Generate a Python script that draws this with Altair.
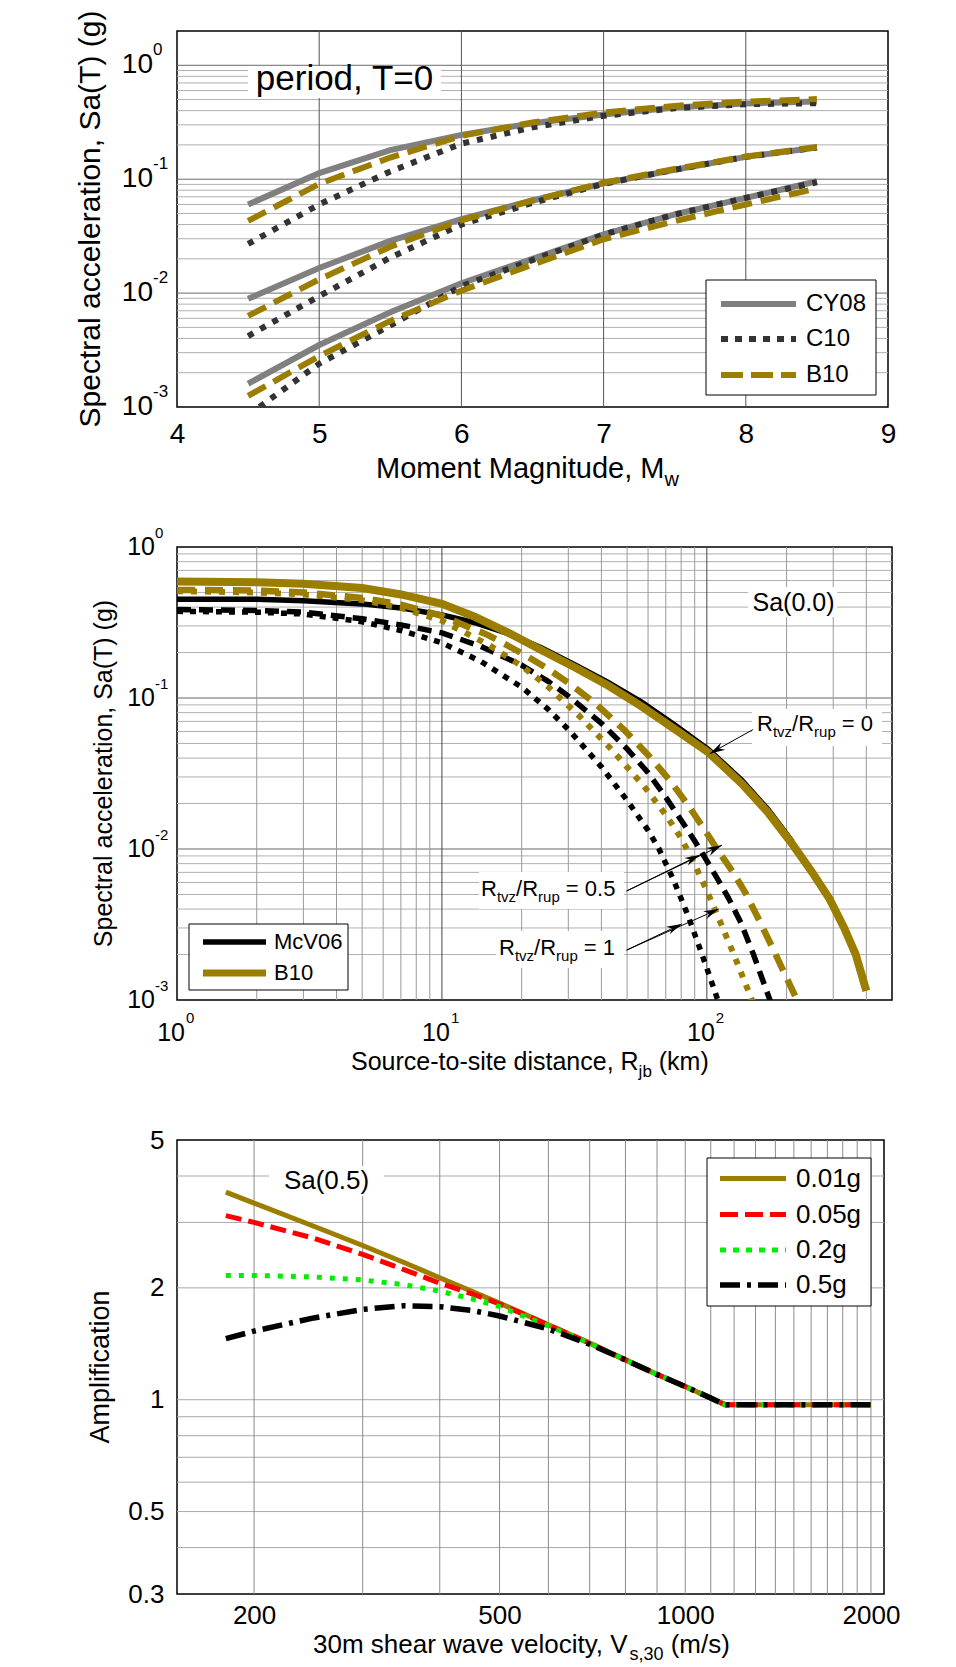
import math
import altair as alt
import pandas as pd

FONT = "Liberation Sans"
GOLD = "#9b7d00"

# ---------------- Panel 1 data (Sa vs Mw, three distances) ----------------
mw = [4.5, 5.0, 5.5, 6.0, 6.5, 7.0, 7.5, 8.0, 8.5]
cy08_a = [0.060, 0.113, 0.180, 0.245, 0.310, 0.370, 0.425, 0.462, 0.480]
c10_a = [0.027, 0.060, 0.117, 0.205, 0.285, 0.360, 0.420, 0.455, 0.465]
b10_a = [0.043, 0.091, 0.155, 0.240, 0.315, 0.385, 0.440, 0.480, 0.505]
cy08_b = [0.0089, 0.0166, 0.0287, 0.0445, 0.065, 0.092, 0.121, 0.157, 0.190]
c10_b = [0.0042, 0.0094, 0.0205, 0.0400, 0.062, 0.091, 0.121, 0.157, 0.190]
b10_b = [0.0063, 0.0132, 0.0255, 0.0435, 0.065, 0.093, 0.123, 0.158, 0.192]
cy08_c = [0.0016, 0.0035, 0.0068, 0.0122, 0.0200, 0.0327, 0.049, 0.0686, 0.096]
c10_c = [0.00085, 0.0024, 0.0052, 0.0115, 0.0195, 0.0327, 0.049, 0.0686, 0.094]
b10_c = [0.00125, 0.0028, 0.0057, 0.0105, 0.0178, 0.0297, 0.0428, 0.060, 0.083]

# ---------------- Panel 2 data (Sa vs Rjb) ----------------
r_mcv_0 = [1, 2, 3, 5, 7, 10, 13.3, 17.7, 23.7, 31.7, 42.4, 56.7, 75.9, 101.5, 135.7, 170, 210]
sa_mcv_0 = [0.45, 0.45, 0.44, 0.42, 0.395, 0.355, 0.315, 0.268, 0.215, 0.166, 0.127, 0.094, 0.066, 0.0455, 0.0285, 0.0183, 0.0112]
r_mcv_05 = [1, 2, 3, 5, 7, 10, 14, 20, 25, 30, 40, 50, 60, 70, 80, 90, 95, 110, 121, 135, 150, 173, 180]
sa_mcv_05 = [0.385, 0.38, 0.37, 0.335, 0.305, 0.27, 0.22, 0.165, 0.13, 0.103, 0.068, 0.046, 0.032, 0.022, 0.0155, 0.0113, 0.0097, 0.0063, 0.0047, 0.0032, 0.002, 0.001, 0.0008]
r_mcv_1 = [1, 2, 3, 5, 7, 10, 14, 20, 25, 30, 40, 50, 60, 66, 75, 85, 95, 103, 110, 115]
sa_mcv_1 = [0.375, 0.37, 0.36, 0.32, 0.28, 0.232, 0.175, 0.118, 0.085, 0.062, 0.035, 0.021, 0.0133, 0.01, 0.0062, 0.0036, 0.0021, 0.0014, 0.001, 0.0008]
r_b10_0 = [1, 2, 3, 5, 7, 10, 13.3, 17.7, 23.7, 31.7, 42.4, 56.7, 75.9, 101.5, 135.7, 170, 210, 250, 290, 330, 365, 400]
sa_b10_0 = [0.59, 0.585, 0.57, 0.535, 0.485, 0.42, 0.345, 0.272, 0.208, 0.16, 0.121, 0.088, 0.062, 0.0435, 0.027, 0.0175, 0.0108, 0.007, 0.0047, 0.003, 0.002, 0.00115]
r_b10_05 = [1, 2, 3, 5, 7, 10, 15, 20, 25, 30, 38, 49, 60, 73, 85, 97, 110, 125, 140, 160, 182, 200, 219, 228]
sa_b10_05 = [0.52, 0.515, 0.50, 0.46, 0.415, 0.35, 0.26, 0.198, 0.157, 0.126, 0.092, 0.061, 0.042, 0.028, 0.0195, 0.0138, 0.0098, 0.0071, 0.0051, 0.0032, 0.002, 0.0014, 0.001, 0.0008]
r_b10_1 = [1, 2, 3, 5, 7, 10, 15, 20, 25, 33, 44, 58, 70, 80, 90, 100, 114, 128, 148, 155]
sa_b10_1 = [0.51, 0.50, 0.485, 0.445, 0.395, 0.325, 0.225, 0.163, 0.12, 0.076, 0.045, 0.026, 0.0168, 0.0118, 0.0079, 0.0053, 0.0031, 0.0019, 0.001, 0.0008]

# annotation arrows (data coordinates)
arrow_r_start = [149.4, 49.8, 49.8, 49.8, 49.8]
arrow_sa_start = [0.0618, 0.00527, 0.00527, 0.00214, 0.00214]
arrow_r_tip = [102.6, 94.1, 114.0, 80.4, 111.0]
arrow_sa_tip = [0.0428, 0.00913, 0.0106, 0.00319, 0.00401]

# ---------------- Panel 3 data (amplification vs Vs30) ----------------
vs30 = [180, 200, 250, 300, 350, 400, 450, 500, 600, 700, 800, 900, 1000, 1100, 1160, 1500, 2000]
amp_001 = [3.62, 3.38, 2.93, 2.60, 2.34, 2.13, 1.96, 1.82, 1.59, 1.42, 1.28, 1.17, 1.085, 1.01, 0.97, 0.97, 0.97]
amp_005 = [3.13, 3.00, 2.72, 2.46, 2.24, 2.06, 1.93, 1.81, 1.59, 1.42, 1.28, 1.17, 1.085, 1.01, 0.97, 0.97, 0.97]
amp_02 = [2.16, 2.16, 2.14, 2.10, 2.04, 1.96, 1.87, 1.78, 1.58, 1.42, 1.28, 1.17, 1.085, 1.01, 0.97, 0.97, 0.97]
amp_05 = [1.46, 1.53, 1.66, 1.75, 1.79, 1.78, 1.74, 1.68, 1.55, 1.41, 1.28, 1.17, 1.085, 1.01, 0.97, 0.97, 0.97]

# ---------------- grid / tick positions ----------------
log_minor = [0.002, 0.003, 0.004, 0.005, 0.006, 0.007, 0.008, 0.009,
             0.02, 0.03, 0.04, 0.05, 0.06, 0.07, 0.08, 0.09,
             0.2, 0.3, 0.4, 0.5, 0.6, 0.7, 0.8, 0.9]
top_hmajor = [0.01, 0.1, 1.0]
top_vgrid = [5, 6, 7, 8]
mid_vminor = [2, 3, 4, 5, 6, 7, 8, 9, 20, 30, 40, 50, 60, 70, 80, 90, 200, 300, 400]
mid_vmajor = [10, 100]
mid_hmajor = [0.01, 0.1]
bot_vgrid = [200, 300, 400, 500, 600, 700, 800, 900, 1000, 1100, 1200, 1300, 1400,
             1500, 1600, 1700, 1800, 1900, 2000]
bot_hgrid = [0.4, 0.5, 0.6, 0.7, 0.8, 0.9, 1, 2, 3, 4]
dec_ticks = [0.001, 0.01, 0.1, 1.0]
dec_exps = ["-3", "-2", "-1", "0"]

# ---------------- helpers ----------------
CW = {' ': 278, '(': 333, ')': 333, ',': 278, '-': 333, '.': 278, '/': 278, '=': 584,
      'A': 667, 'B': 667, 'C': 722, 'D': 722, 'E': 667, 'F': 611, 'G': 778, 'H': 722, 'I': 278,
      'J': 500, 'K': 667, 'L': 556, 'M': 833, 'N': 722, 'O': 778, 'P': 667, 'Q': 778, 'R': 722,
      'S': 667, 'T': 611, 'U': 722, 'V': 667, 'W': 944, 'X': 667, 'Y': 667, 'Z': 611,
      'a': 556, 'b': 556, 'c': 500, 'd': 556, 'e': 556, 'f': 278, 'g': 556, 'h': 556, 'i': 222,
      'j': 222, 'k': 500, 'l': 222, 'm': 833, 'n': 556, 'o': 556, 'p': 556, 'q': 556, 'r': 333,
      's': 500, 't': 278, 'u': 556, 'v': 500, 'w': 722, 'x': 500, 'y': 500, 'z': 500}


def tw(s, fs):
    return sum(CW.get(c, 556) for c in s) * fs / 1000.0


ONE = pd.DataFrame({"k": [0]})


def txt(text, x, y, fs, align="left", baseline="alphabetic", angle=None):
    kw = dict(text=text, align=align, baseline=baseline, fontSize=fs, font=FONT, color="black")
    if angle is not None:
        kw["angle"] = angle
    return alt.Chart(ONE).mark_text(**kw).encode(x=alt.value(x), y=alt.value(y))


def rich(parts, x, y, fs, sfs, sdy):
    out = []
    for t, kind in parts:
        size = fs if kind == "n" else sfs
        lead = len(t) - len(t.lstrip(" "))
        x += lead * tw(" ", size)
        t = t.lstrip(" ")
        out.append(txt(t, x, y + (0 if kind == "n" else sdy), size))
        x += tw(t, size)
    return out


def box(x1, x2, y1, y2, border=False):
    kw = dict(fill="white")
    if border:
        kw.update(stroke="black", strokeWidth=1)
    else:
        kw.update(strokeWidth=0)
    return alt.Chart(ONE).mark_rect(**kw).encode(
        x=alt.value(x1), x2=alt.value(x2), y=alt.value(y1), y2=alt.value(y2))


def sample(x1, x2, y, color, width, dash=None):
    kw = dict(color=color, strokeWidth=width)
    if dash:
        kw["strokeDash"] = dash
    return alt.Chart(ONE).mark_rule(**kw).encode(x=alt.value(x1), x2=alt.value(x2), y=alt.value(y))


def line(df, X, Y, color, width, dash=None, detail=False):
    kw = dict(color=color, strokeWidth=width, clip=True)
    if dash:
        kw["strokeDash"] = dash
    enc = dict(x=X(), y=Y())
    if detail:
        enc["detail"] = "g:N"
    return alt.Chart(df).mark_line(**kw).encode(**enc)


def hrules(vals, Y, color):
    return alt.Chart(pd.DataFrame({"y": vals})).mark_rule(color=color, strokeWidth=1).encode(y=Y())


def vrules(vals, X, color):
    return alt.Chart(pd.DataFrame({"x": vals})).mark_rule(color=color, strokeWidth=1).encode(x=X())


def lab_axis(values, fs, pad):
    return alt.Axis(values=values, labelExpr="toString(datum.value)", grid=False, ticks=False,
                    tickSize=0, domain=False, title=None, labelFont=FONT, labelFontSize=fs,
                    labelPadding=pad, labelColor="black", labelFlush=False, labelOverlap=False)


# ================= Panel 1 =================
W1, H1 = 711, 376


def X1():
    return alt.X("x:Q", scale=alt.Scale(domain=[4, 9], nice=False, zero=False),
                 axis=lab_axis([4, 5, 6, 7, 8, 9], 28, 13))


def Y1():
    return alt.Y("y:Q", scale=alt.Scale(type="log", domain=[0.001, 2], nice=False), axis=None)


def grp(x, ys_list):
    frames = []
    for i, ys in enumerate(ys_list):
        frames.append(pd.DataFrame({"x": x, "y": ys, "g": [i] * len(x)}))
    return pd.concat(frames, ignore_index=True)


df_cy08 = grp(mw, [cy08_a, cy08_b, cy08_c])
df_c10 = grp(mw, [c10_a, c10_b, c10_c])
df_b10 = grp(mw, [b10_a, b10_b, b10_c])
df_dec = pd.DataFrame({"y": dec_ticks, "e": dec_exps})

L1 = [
    alt.Chart(ONE).mark_rule(color="white", strokeWidth=0.01).encode(
        x=alt.value(-176), x2=alt.value(-175.9), y=alt.value(-30), y2=alt.value(-29.9)),
    hrules(log_minor, Y1, "#b0b0b0"),
    hrules(top_hmajor, Y1, "#6a6a6a"),
    vrules(top_vgrid, X1, "#555555"),
    box(71, 264, 35, 67),
    txt("period, T=0", 167.5, 48, 35, align="center", baseline="middle"),
    line(df_cy08, X1, Y1, "#808080", 6, detail=True),
    line(df_c10, X1, Y1, "#333333", 6, dash=[6, 8], detail=True),
    line(df_b10, X1, Y1, GOLD, 6, dash=[20, 9], detail=True),
    alt.Chart(df_dec).mark_text(text="10", align="right", baseline="middle", fontSize=28,
                                font=FONT, color="black").encode(y=Y1(), x=alt.value(-24)),
    alt.Chart(df_dec).mark_text(align="left", baseline="middle", fontSize=17, font=FONT,
                                color="black", dy=-15).encode(y=Y1(), x=alt.value(-24), text="e:N"),
    txt("Spectral acceleration, Sa(T) (g)", -86, 188, 30, align="center", baseline="middle", angle=270),
    box(529, 699, 249, 364, border=True),
    sample(544, 619, 273, "#808080", 6),
    sample(544, 619, 308, "#333333", 6, [7, 7]),
    sample(544, 619, 344, GOLD, 6, [22, 8]),
    txt("CY08", 629, 273, 24, baseline="middle"),
    txt("C10", 629, 308, 24, baseline="middle"),
    txt("B10", 629, 344, 24, baseline="middle"),
] + rich([("Moment Magnitude, M", "n"), ("w", "s")], 199, 447, 29, 20, 8)

p1 = alt.layer(*L1).properties(width=W1, height=H1)

# ================= Panel 2 =================
W2, H2 = 715, 453


def X2():
    return alt.X("x:Q", scale=alt.Scale(type="log", domain=[1, 500], nice=False), axis=None)


def Y2():
    return alt.Y("y:Q", scale=alt.Scale(type="log", domain=[0.001, 1], nice=False), axis=None)


def mk(x, y):
    return pd.DataFrame({"x": x, "y": y})


def px2(r):
    return W2 * math.log10(r) / math.log10(500)


def py2(s):
    return H2 * (-math.log10(s)) / 3.0


angles = []
for i in range(len(arrow_r_tip)):
    dx = px2(arrow_r_tip[i]) - px2(arrow_r_start[i])
    dy = py2(arrow_sa_tip[i]) - py2(arrow_sa_start[i])
    angles.append(math.degrees(math.atan2(dx, -dy)) % 360)

df_arr = pd.DataFrame({"x": arrow_r_start, "y": arrow_sa_start,
                       "x2": arrow_r_tip, "y2": arrow_sa_tip})
df_head = pd.DataFrame({"x": arrow_r_tip, "y": arrow_sa_tip, "ang": angles})
ARROW = "M0,0L-0.6,2.2L0,1.5L0.6,2.2Z"
df_xdec = pd.DataFrame({"x": [1, 10, 100], "e": ["0", "1", "2"]})

L2 = [
    hrules(log_minor, Y2, "#b0b0b0"),
    hrules(mid_hmajor, Y2, "#666666"),
    vrules(mid_vminor, X2, "#9a9a9a"),
    vrules(mid_vmajor, X2, "#444444"),
    box(571, 660, 40, 70),
    box(575, 705, 162, 199),
    box(302, 447, 325, 362),
    box(319, 447, 384, 421),
    line(mk(r_mcv_1, sa_mcv_1), X2, Y2, "black", 5.5, dash=[6, 7]),
    line(mk(r_mcv_05, sa_mcv_05), X2, Y2, "black", 5.5, dash=[14, 8]),
    line(mk(r_mcv_0, sa_mcv_0), X2, Y2, "black", 5.5),
    line(mk(r_b10_1, sa_b10_1), X2, Y2, GOLD, 6, dash=[6, 8]),
    line(mk(r_b10_05, sa_b10_05), X2, Y2, GOLD, 6.5, dash=[18, 10]),
    line(mk(r_b10_0, sa_b10_0), X2, Y2, GOLD, 8),
    alt.Chart(df_arr).mark_rule(color="black", strokeWidth=1).encode(
        x=X2(), y=Y2(), x2=alt.X2("x2:Q"), y2=alt.Y2("y2:Q")),
    alt.Chart(df_head).mark_point(shape=ARROW, filled=True, color="black", size=196,
                                  opacity=1, strokeWidth=0).encode(
        x=X2(), y=Y2(), angle=alt.Angle("ang:Q", scale=None)),
    txt("Sa(0.0)", 616.5, 56, 25, align="center", baseline="middle"),
    alt.Chart(df_dec).mark_text(text="10", align="right", baseline="middle", fontSize=25,
                                font=FONT, color="black").encode(y=Y2(), x=alt.value(-22)),
    alt.Chart(df_dec).mark_text(align="left", baseline="middle", fontSize=15, font=FONT,
                                color="black", dy=-14).encode(y=Y2(), x=alt.value(-22), text="e:N"),
    alt.Chart(df_xdec).mark_text(text="10", align="right", baseline="middle", fontSize=25,
                                 font=FONT, color="black", dx=8).encode(x=X2(), y=alt.value(H2 + 33)),
    alt.Chart(df_xdec).mark_text(align="left", baseline="middle", fontSize=15, font=FONT,
                                 color="black", dx=9).encode(x=X2(), y=alt.value(H2 + 18), text="e:N"),
    txt("Spectral acceleration, Sa(T) (g)", -73, H2 / 2, 25, align="center", baseline="middle", angle=270),
    box(12, 171, 377, 443, border=True),
    sample(26, 89, 395, "black", 5.5),
    sample(26, 89, 426, GOLD, 7),
    txt("McV06", 97, 395, 22, baseline="middle"),
    txt("B10", 97, 426, 22, baseline="middle"),
]
L2 += rich([("Source-to-site distance, R", "n"), ("jb", "s"), (" (km)", "n")], 174, 523, 25, 17, 7)
L2 += rich([("R", "n"), ("tvz", "s"), ("/R", "n"), ("rup", "s"), (" = 0", "n")], 580, 184, 22, 15, 6)
L2 += rich([("R", "n"), ("tvz", "s"), ("/R", "n"), ("rup", "s"), (" = 0.5", "n")], 304, 349, 22, 15, 6)
L2 += rich([("R", "n"), ("tvz", "s"), ("/R", "n"), ("rup", "s"), (" = 1", "n")], 322, 408, 22, 15, 6)

p2 = alt.layer(*L2).properties(width=W2, height=H2)

# ================= Panel 3 =================
W3, H3 = 707, 454


def X3():
    return alt.X("x:Q", scale=alt.Scale(type="log", domain=[150, 2100], nice=False),
                 axis=lab_axis([200, 500, 1000, 2000], 26, 8))


def Y3():
    return alt.Y("y:Q", scale=alt.Scale(type="log", domain=[0.3, 5], nice=False),
                 axis=lab_axis([0.3, 0.5, 1, 2, 5], 26, 13))


L3 = [
    hrules(bot_hgrid, Y3, "#a8a8a8"),
    vrules(bot_vgrid, X3, "#8c8c8c"),
    box(92, 207, 26, 56),
    txt("Sa(0.5)", 149.5, 41, 26, align="center", baseline="middle"),
    line(mk(vs30, amp_001), X3, Y3, GOLD, 5),
    line(mk(vs30, amp_005), X3, Y3, "#ff0000", 5, dash=[16, 7]),
    line(mk(vs30, amp_02), X3, Y3, "#00ee00", 5, dash=[5, 8]),
    line(mk(vs30, amp_05), X3, Y3, "black", 5.5, dash=[20, 7, 4, 7]),
    txt("Amplification", -76, H3 / 2, 27, align="center", baseline="middle", angle=270),
    box(530, 694, 18, 166, border=True),
    sample(543, 609, 38.6, GOLD, 5),
    sample(543, 609, 74.5, "#ff0000", 5, [18, 7]),
    sample(543, 609, 110, "#00ee00", 5, [6, 7]),
    sample(543, 609, 145, "black", 5.5, [20, 7, 4, 7]),
    txt("0.01g", 619, 38.6, 26, baseline="middle"),
    txt("0.05g", 619, 74.5, 26, baseline="middle"),
    txt("0.2g", 619, 110, 26, baseline="middle"),
    txt("0.5g", 619, 145, 26, baseline="middle"),
]
L3 += rich([("30m shear wave velocity, V", "n"), ("s,30", "s"), (" (m/s)", "n")], 136, 513, 26, 18, 7)

p3 = alt.layer(*L3).properties(width=W3, height=H3)

chart = alt.vconcat(p1, p2, p3, spacing=140, bounds="flush").properties(
    padding=0, background="white"
).configure_view(stroke="black", strokeWidth=1.5)

chart.save("out.html", embed_options={"renderer": "svg", "actions": False})
